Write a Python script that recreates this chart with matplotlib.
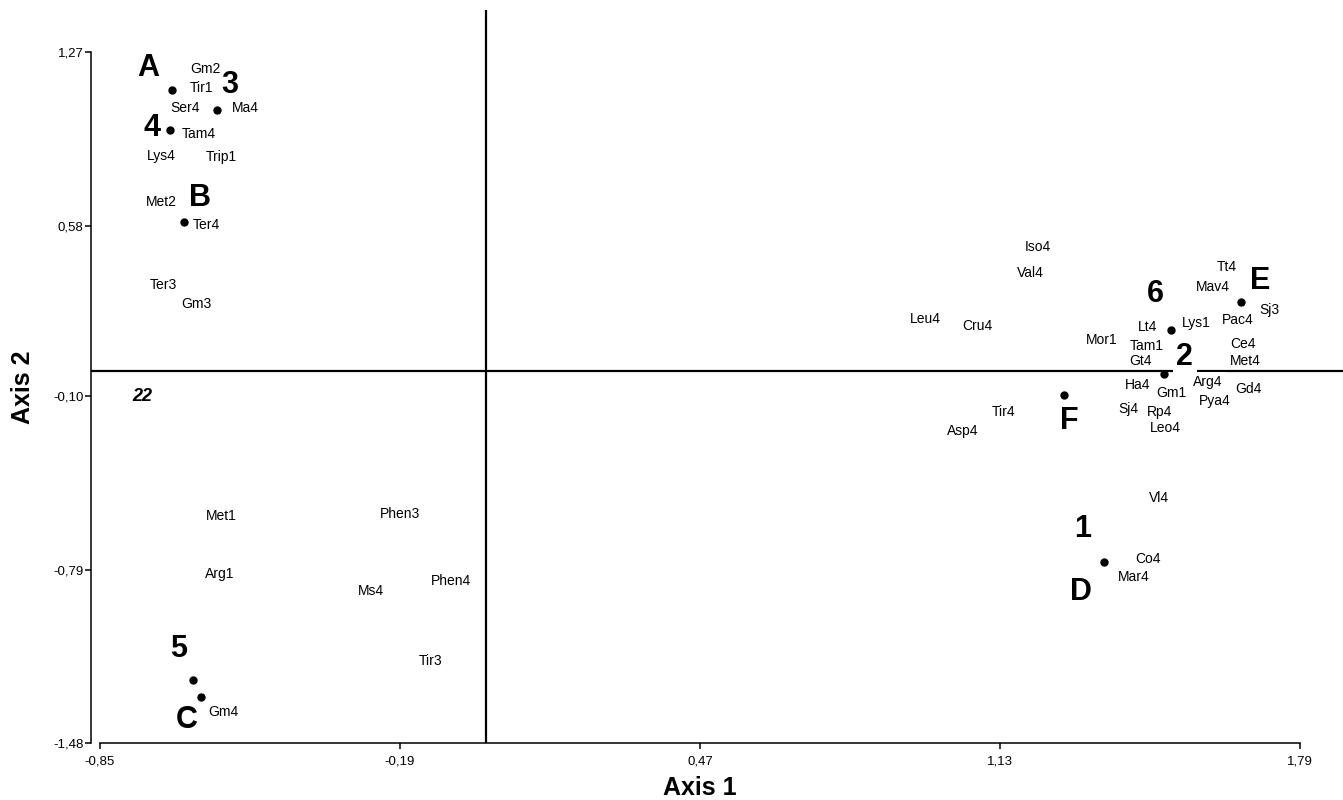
import matplotlib
matplotlib.use("Agg")
import matplotlib.pyplot as plt

plt.rcParams['font.family'] = ['Liberation Sans', 'DejaVu Sans']

# Sample points (dots)
dot_x = [-0.692, -0.593, -0.697, -0.665, -0.646, -0.628, 1.272, 1.492, 1.506, 1.660, 1.359]
dot_y = [1.119, 1.042, 0.960, 0.596, -1.229, -1.295, -0.095, -0.012, 0.163, 0.278, -0.758]

# Group labels (big bold)
group_names = ['A', '3', '4', 'B', '5', 'C', 'F', '2', '6', 'E', '1', 'D']
group_x = [-0.744, -0.564, -0.736, -0.630, -0.678, -0.659, 1.282, 1.537, 1.473, 1.702, 1.311, 1.308]
group_y = [1.207, 1.139, 0.968, 0.692, -1.106, -1.390, -0.199, 0.057, 0.308, 0.360, -0.627, -0.878]

# Variable labels (small)
var_names = ['Gm2', 'Tir1', 'Ser4', 'Ma4', 'Tam4', 'Lys4', 'Trip1', 'Met2', 'Ter4', 'Ter3', 'Gm3',
             'Met1', 'Phen3', 'Arg1', 'Ms4', 'Phen4', 'Tir3', 'Gm4',
             'Iso4', 'Val4', 'Leu4', 'Cru4', 'Tt4', 'Mav4', 'Sj3', 'Pac4', 'Lt4', 'Lys1', 'Mor1',
             'Tam1', 'Ce4', 'Gt4', 'Met4', 'Ha4', 'Arg4', 'Gm1', 'Gd4', 'Pya4', 'Tir4', 'Sj4',
             'Rp4', 'Leo4', 'Asp4', 'Vl4', 'Co4', 'Mar4']
var_x = [-0.619, -0.626, -0.663, -0.531, -0.632, -0.716, -0.582, -0.714, -0.615, -0.711, -0.639,
         -0.584, -0.191, -0.586, -0.254, -0.078, -0.122, -0.579,
         1.213, 1.198, 0.967, 1.080, 1.630, 1.599, 1.723, 1.653, 1.454, 1.563, 1.354,
         1.453, 1.664, 1.440, 1.671, 1.433, 1.588, 1.508, 1.678, 1.603, 1.139, 1.412,
         1.482, 1.495, 1.048, 1.481, 1.455, 1.424]
var_y = [1.203, 1.129, 1.047, 1.047, 0.944, 0.857, 0.854, 0.673, 0.583, 0.344, 0.270,
         -0.576, -0.569, -0.808, -0.875, -0.834, -1.155, -1.355,
         0.497, 0.391, 0.210, 0.179, 0.417, 0.334, 0.244, 0.203, 0.177, 0.192, 0.123,
         0.102, 0.107, 0.041, 0.040, -0.056, -0.043, -0.087, -0.070, -0.119, -0.162, -0.151,
         -0.160, -0.226, -0.239, -0.503, -0.749, -0.818]

# Labels drawn on an opaque white background (they cut the axis line)
masked_labels = ['2', 'Arg4']

# Extra note
note_text = '22'
note_x, note_y = -0.758, -0.099

x_ticks = [-0.85, -0.19, 0.47, 1.13, 1.79]
x_ticklabels = ['-0,85', '-0,19', '0,47', '1,13', '1,79']
y_ticks = [-1.48, -0.79, -0.10, 0.58, 1.27]
y_ticklabels = ['-1,48', '-0,79', '-0,10', '0,58', '1,27']

W, H = 1343, 800
fig = plt.figure(figsize=(W / 100, H / 100), dpi=100)
ax = fig.add_axes([91 / W, (H - 743) / H, (W - 91) / W, (743 - 10) / H])
ax.set_xlim(-0.8698, 1.885)
ax.set_ylim(-1.48, 1.439)

for s in ['top', 'right']:
    ax.spines[s].set_visible(False)
ax.spines['left'].set_bounds(-1.48, 1.27)
ax.spines['bottom'].set_bounds(-0.85, 1.79)
ax.spines['left'].set_linewidth(1.1)
ax.spines['bottom'].set_linewidth(1.1)

ax.set_xticks(x_ticks)
ax.set_xticklabels(x_ticklabels)
ax.set_yticks(y_ticks)
ax.set_yticklabels(y_ticklabels)
ax.tick_params(direction='out', length=4, width=1.1, labelsize=9.5)
ax.tick_params(axis='x', pad=5)
ax.tick_params(axis='y', pad=1.5)

ax.axvline(0, color='black', lw=1.6, zorder=1)
ax.axhline(0, color='black', lw=1.6, zorder=1)

ax.plot(dot_x, dot_y, 'o', color='black', markersize=5, zorder=3, clip_on=False)

mask_box = dict(facecolor='white', edgecolor='none', pad=2.5)

for name, x, y in zip(group_names, group_x, group_y):
    ax.text(x, y, name, ha='center', va='center', fontsize=22, fontweight='bold', zorder=4,
            bbox=mask_box if name in masked_labels else None)

for name, x, y in zip(var_names, var_x, var_y):
    ax.text(x, y, name, ha='center', va='center', fontsize=10, zorder=4,
            bbox=mask_box if name in masked_labels else None)

ax.text(note_x, note_y, note_text, ha='center', va='center', fontsize=13,
        fontweight='bold', fontstyle='italic', zorder=4)

fig.text(700 / W, 1 - 788 / H, 'Axis 1', ha='center', va='center', fontsize=18, fontweight='bold')
fig.text(23 / W, 1 - 387 / H, 'Axis 2', ha='center', va='center', fontsize=18,
         fontweight='bold', rotation=90)

fig.savefig('out.png', dpi=100)
